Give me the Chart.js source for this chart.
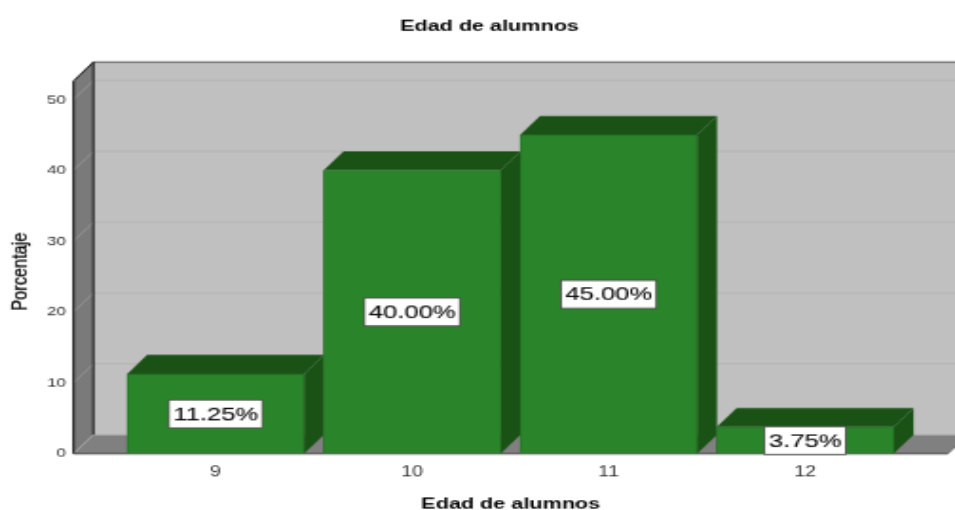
<!DOCTYPE html>
<html>
<head>
<meta charset="utf-8">
<script src="https://cdn.jsdelivr.net/npm/chart.js@4"></script>
<style>
    html, body { margin: 0; padding: 0; background: white; overflow: hidden; }
    /* the source image is a low-res chart stretched up, so the canvas is too */
    #edadChart { display: block; width: 955px !important; height: 510px !important; filter: blur(0.5px); }
</style>
</head>
<body>
<canvas id="edadChart" width="503" height="364"></canvas>
<script>
const edades = [9, 10, 11, 12];
const porcentajes = [11.25, 40, 45, 3.75];
const yTicksMax = 52.6;
const xMin = 8.277;
const xMax = 12.727;
const titulo = 'Edad de alumnos';
const tituloY = 'Porcentaje';

const DX = 10.5;
const DY = 13.6;
const fuente = 'Liberation Sans';

function poly(c, pts, fill) {
    c.beginPath();
    pts.forEach((p, i) => i ? c.lineTo(p[0], p[1]) : c.moveTo(p[0], p[1]));
    c.closePath();
    c.fillStyle = fill;
    c.fill();
}

function line(c, x1, y1, x2, y2, color, w) {
    c.beginPath();
    c.moveTo(x1, y1);
    c.lineTo(x2, y2);
    c.strokeStyle = color;
    c.lineWidth = w;
    c.stroke();
}

const escena3d = {
    id: 'escena3d',
    beforeDatasetsDraw(chart) {
        const c = chart.ctx;
        const a = chart.chartArea;
        const yScale = chart.scales.y;
        c.save();
        // back wall, left wall, floor
        poly(c, [[a.left + DX, a.top - DY], [a.right + DX, a.top - DY], [a.right + DX, a.bottom - DY], [a.left + DX, a.bottom - DY]], '#c0c0c0');
        poly(c, [[a.left, a.top], [a.left + DX, a.top - DY], [a.left + DX, a.bottom - DY], [a.left, a.bottom]], '#7a7a7a');
        poly(c, [[a.left, a.bottom], [a.left + DX, a.bottom - DY], [a.right + DX, a.bottom - DY], [a.right, a.bottom]], '#808080');
        yScale.ticks.forEach(t => {
            const y = yScale.getPixelForValue(t.value);
            line(c, a.left + DX, y - DY, a.right + DX, y - DY, '#b2b2b2', 0.7);
            line(c, a.left, y, a.left + DX, y - DY, '#a8a8a8', 0.5);
        });
        line(c, a.left + DX, a.top - DY, a.right + DX, a.top - DY, '#444444', 0.8);
        line(c, a.left, a.top, a.left + DX, a.top - DY, '#111111', 1);
        line(c, a.left + DX, a.top - DY, a.left + DX, a.bottom - DY, '#111111', 1);
        line(c, a.left, a.top, a.left, a.bottom, '#111111', 1.1);
        line(c, a.left, a.bottom, a.right, a.bottom, '#333333', 0.9);
        line(c, a.right, a.bottom, a.right + DX, a.bottom - DY, '#555555', 0.6);
        // side and top of each bar
        chart.getDatasetMeta(0).data.forEach(b => {
            const l = b.x - b.width / 2;
            const r = b.x + b.width / 2;
            poly(c, [[l, b.y], [l + DX, b.y - DY], [r + DX, b.y - DY], [r, b.y]], '#1a5216');
            poly(c, [[r, b.y], [r + DX, b.y - DY], [r + DX, b.base - DY], [r, b.base]], '#1a5216');
        });
        c.restore();
    },
    afterDatasetsDraw(chart) {
        const c = chart.ctx;
        c.save();
        c.font = '13.5px "' + fuente + '"';
        c.textAlign = 'center';
        c.textBaseline = 'middle';
        chart.getDatasetMeta(0).data.forEach((b, i) => {
            const txt = porcentajes[i].toFixed(2) + '%';
            const w = c.measureText(txt).width + 4.5;
            const h = 20;
            const y = (b.y + b.base) / 2;
            c.fillStyle = 'white';
            c.fillRect(b.x - w / 2, y - h / 2, w, h);
            c.strokeStyle = '#444444';
            c.lineWidth = 0.8;
            c.strokeRect(b.x - w / 2, y - h / 2, w, h);
            c.fillStyle = '#111111';
            c.fillText(txt, b.x, y + 0.5);
            c.strokeStyle = '#111111';
            c.lineWidth = 0.15;
            c.strokeText(txt, b.x, y + 0.5);
        });
        // y axis title sits a bit below the middle of the axis
        const yMedio = (chart.chartArea.top + chart.chartArea.bottom) / 2 + 3;
        c.translate(10.5, yMedio);
        c.rotate(-Math.PI / 2);
        c.font = '11.7px "' + fuente + '"';
        c.fillStyle = '#000000';
        c.fillText(tituloY, 0, 0);
        c.strokeStyle = '#000000';
        c.lineWidth = 0.25;
        c.strokeText(tituloY, 0, 0);
        c.restore();
    }
};

new Chart(document.getElementById('edadChart'), {
    type: 'bar',
    data: {
        datasets: [{
            label: tituloY,
            data: edades.map((e, i) => ({ x: e, y: porcentajes[i] })),
            barThickness: 93.2,
            backgroundColor: '#2a852a',
            borderColor: '#246f24',
            borderWidth: 0.8
        }]
    },
    options: {
        responsive: false,
        animation: false,
        devicePixelRatio: 1,
        layout: {
            padding: { left: 16.3, right: 3.7 }
        },
        plugins: {
            legend: { display: false },
            tooltip: { enabled: false },
            title: {
                display: true,
                text: titulo,
                color: '#000000',
                font: { family: fuente, size: 11.4, weight: 'bold' },
                padding: { top: 11.8, bottom: 32.4 }
            }
        },
        scales: {
            x: {
                type: 'linear',
                offset: false,
                min: xMin,
                max: xMax,
                afterFit(s) { s.height = 40.2; },
                grid: { display: false, drawTicks: false },
                border: { display: false },
                ticks: {
                    stepSize: 1,
                    includeBounds: false,
                    maxRotation: 0,
                    padding: 6.7,
                    color: '#333333',
                    font: { family: fuente, size: 10.5 }
                },
                title: {
                    display: true,
                    text: titulo,
                    color: '#000000',
                    font: { family: fuente, size: 11.4, weight: 'bold' },
                    padding: { top: 0, bottom: -2.9 }
                }
            },
            y: {
                min: 0,
                max: yTicksMax,
                afterFit(s) { s.width = 22.4; },
                grid: { display: false, drawTicks: false },
                border: { display: false },
                ticks: {
                    stepSize: 10,
                    includeBounds: false,
                    padding: 4,
                    color: '#333333',
                    font: { family: fuente, size: 9 }
                }
            }
        }
    },
    plugins: [escena3d]
});
</script>
</body>
</html>
